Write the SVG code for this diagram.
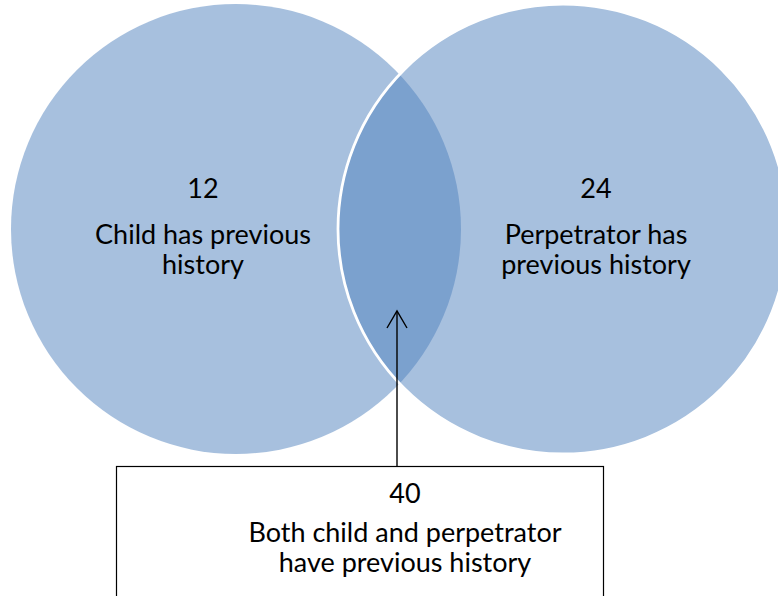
<svg xmlns="http://www.w3.org/2000/svg" width="778" height="596" viewBox="0 0 778 596">
<defs>
<style>
.set{fill:#4F81BD;fill-opacity:0.5}
.lbl{font-family:Lato,"Liberation Sans",sans-serif;font-size:27px;fill:#000;text-anchor:middle}
.box{fill:#fff;stroke:#000;stroke-width:1.2}
.conn{stroke:#000;stroke-width:1.4;fill:none}
</style>
<marker id="open" markerUnits="userSpaceOnUse" viewBox="-19 -11 22 22" refX="0" refY="0" markerWidth="22" markerHeight="22" orient="auto" overflow="visible">
<path d="M-17,-10 L0,0 L-17,10" fill="none" stroke="#000" stroke-width="1.4"/>
</marker>
</defs>
<g id="node-child">
<circle class="set" cx="236" cy="229" r="225"/>
<text class="lbl" x="203" y="198">12</text>
<text class="lbl" x="203" y="244">Child has previous</text>
<text class="lbl" x="203" y="274">history</text>
</g>
<g id="node-perpetrator">
<circle class="set" cx="563" cy="229" r="225" stroke="#fff" stroke-width="2.8"/>
<text class="lbl" x="596" y="198">24</text>
<text class="lbl" x="596" y="244">Perpetrator has</text>
<text class="lbl" x="596" y="274">previous history</text>
</g>
<g id="node-both">
<rect class="box" x="116.5" y="466.5" width="487" height="140"/>
<text class="lbl" x="405" y="503">40</text>
<text class="lbl" x="405" y="542">Both child and perpetrator</text>
<text class="lbl" x="405" y="572">have previous history</text>
</g>
<g id="connectors">
<path class="conn" d="M397,466 L397,311" marker-end="url(#open)"/>
</g>
</svg>
